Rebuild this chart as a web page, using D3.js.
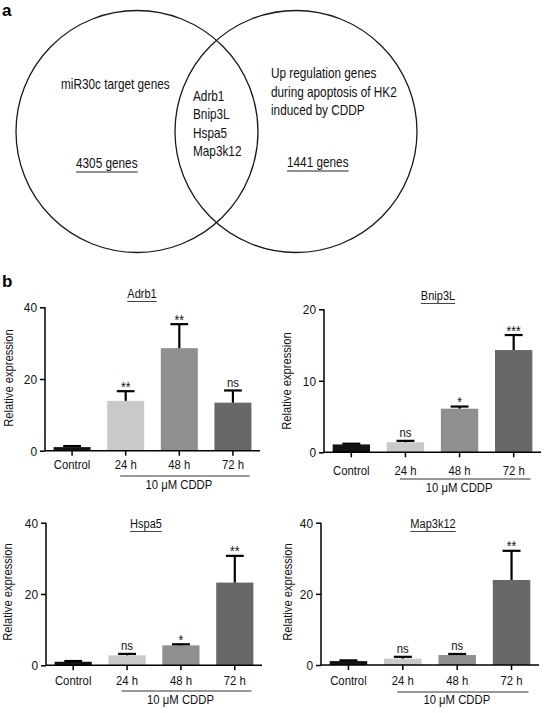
<!DOCTYPE html>
<html>
<head>
<meta charset="utf-8">
<script src="https://cdn.jsdelivr.net/npm/d3@7/dist/d3.min.js"></script>
<style>
  html, body { margin: 0; padding: 0; background: #fff; }
  svg { display: block; font-family: "Liberation Sans", Arial, sans-serif; }
</style>
</head>
<body>
<svg id="chart" width="544" height="713"></svg>
<script>
// ---------- DATA ----------
const categories = ["Control", "24 h", "48 h", "72 h"];
const genes = ["Adrb1", "Bnip3L", "Hspa5", "Map3k12"];

const adrb1Mean = [1.0, 13.9, 28.6, 13.4];
const adrb1Err  = [0.3, 2.7, 6.7, 3.4];
const adrb1Sig  = ["", "**", "**", "ns"];

const bnip3lMean = [1.1, 1.4, 6.1, 14.3];
const bnip3lErr  = [0.1, 0.2, 0.3, 2.1];
const bnip3lSig  = ["", "ns", "*", "***"];

const hspa5Mean = [1.0, 2.8, 5.6, 23.2];
const hspa5Err  = [0.2, 0.4, 0.3, 7.5];
const hspa5Sig  = ["", "ns", "*", "**"];

const map3k12Mean = [1.1, 1.8, 2.8, 23.9];
const map3k12Err  = [0.2, 0.5, 0.3, 8.2];
const map3k12Sig  = ["", "ns", "ns", "**"];

const ticks40 = [0, 20, 40];
const ticks20 = [0, 10, 20];

const yAxisTitle = "Relative expression";
const treatmentLabel = "10 μM CDDP";

const vennLeftLabel = ["miR30c target genes"];
const vennLeftCount = "4305 genes";
const vennShared = ["Adrb1", "Bnip3L", "Hspa5", "Map3k12"];
const vennRightLabel = ["Up regulation genes", "during apoptosis of HK2", "induced by CDDP"];
const vennRightCount = "1441 genes";

// ---------- STYLE / LAYOUT ----------
const barColors = ["#131313", "#c9c9c9", "#8f8f8f", "#686868"];
const svg = d3.select("#chart");
svg.append("rect").attr("width", 544).attr("height", 713).attr("fill", "#fff");

function condense(sel, f) {
  sel.each(function () {
    const w = this.getComputedTextLength();
    d3.select(this).attr("textLength", w * f).attr("lengthAdjust", "spacingAndGlyphs");
  });
  return sel;
}

// panel letters
svg.append("text").attr("x", 2).attr("y", 16).attr("font-size", 17).attr("font-weight", "bold").text("a");
svg.append("text").attr("x", 2).attr("y", 287).attr("font-size", 17).attr("font-weight", "bold").text("b");

// ---------- VENN ----------
const venn = svg.append("g");
const circles = [{cx: 137, cy: 131.5, r: 121}, {cx: 296, cy: 131.5, r: 121}];
venn.selectAll("circle").data(circles).join("circle")
  .attr("cx", d => d.cx).attr("cy", d => d.cy).attr("r", d => d.r)
  .attr("fill", "none").attr("stroke", "#1a1a1a").attr("stroke-width", 1.3);

const vennFont = 15, vennSquash = 0.785;
function vennLines(lines, x, y0, dy) {
  return venn.append("g").selectAll("text").data(lines).join("text")
    .attr("x", x).attr("y", (d, i) => y0 + i * dy)
    .attr("font-size", vennFont).attr("fill", "#111").text(d => d)
    .call(condense, vennSquash);
}
vennLines(vennLeftLabel, 61, 89, 18.5);
vennLines(vennShared, 193, 101, 18.3);
vennLines(vennRightLabel, 271, 78, 18.5);
function countLabel(txt, x, y) {
  const t = venn.append("text").attr("x", x).attr("y", y).attr("font-size", vennFont)
    .attr("fill", "#111").text(txt).call(condense, vennSquash);
  const w = +t.attr("textLength");
  venn.append("line").attr("x1", x).attr("x2", x + w).attr("y1", y + 4).attr("y2", y + 4)
    .attr("stroke", "#222").attr("stroke-width", 1);
}
countLabel(vennLeftCount, 76, 168);
countLabel(vennRightCount, 287, 167);

// ---------- BAR PANELS ----------
const panels = [
  {gene: genes[0], mean: adrb1Mean, err: adrb1Err, sig: adrb1Sig, ticks: ticks40,
   x0: 45, x1: 260, y0: 450.7, yTop: 307.3, titleX: 142, titleY: 298,
   yLabX: 12.5, yLabY: 378, xLabY: 469, lineY: 476, cddpY: 489},
  {gene: genes[1], mean: bnip3lMean, err: bnip3lErr, sig: bnip3lSig, ticks: ticks20,
   x0: 324, x1: 541, y0: 452.3, yTop: 309.3, titleX: 438, titleY: 300,
   yLabX: 291, yLabY: 381, xLabY: 475, lineY: 479, cddpY: 492},
  {gene: genes[2], mean: hspa5Mean, err: hspa5Err, sig: hspa5Sig, ticks: ticks40,
   x0: 46, x1: 262, y0: 665.3, yTop: 522.7, titleX: 146, titleY: 528,
   yLabX: 12, yLabY: 592, xLabY: 685, lineY: 691, cddpY: 704},
  {gene: genes[3], mean: map3k12Mean, err: map3k12Err, sig: map3k12Sig, ticks: ticks40,
   x0: 321, x1: 539, y0: 665, yTop: 522.7, titleX: 433, titleY: 528,
   yLabX: 292, yLabY: 592, xLabY: 685, lineY: 692, cddpY: 704}
];

panels.forEach(p => {
  const g = svg.append("g");
  const yMax = p.ticks[p.ticks.length - 1];
  const x = d3.scaleBand().domain(categories).range([p.x0, p.x1]).paddingInner(0.31).paddingOuter(0.16);
  const y = d3.scaleLinear().domain([0, yMax]).range([p.y0, p.yTop]);
  const rows = categories.map((c, i) => ({c, m: p.mean[i], e: p.err[i], s: p.sig[i], col: barColors[i]}));

  // bars
  g.selectAll("rect.bar").data(rows).join("rect").attr("class", "bar")
    .attr("x", d => x(d.c)).attr("width", x.bandwidth())
    .attr("y", d => y(d.m)).attr("height", d => y(0) - y(d.m))
    .attr("fill", d => d.col);

  // error bars (upper only)
  const capW = x.bandwidth() * 0.48;
  g.selectAll("line.stem").data(rows).join("line").attr("class", "stem")
    .attr("x1", d => x(d.c) + x.bandwidth() / 2).attr("x2", d => x(d.c) + x.bandwidth() / 2)
    .attr("y1", d => y(d.m)).attr("y2", d => y(d.m + d.e))
    .attr("stroke", "#000").attr("stroke-width", 2.2);
  g.selectAll("line.cap").data(rows).join("line").attr("class", "cap")
    .attr("x1", d => x(d.c) + x.bandwidth() / 2 - capW / 2).attr("x2", d => x(d.c) + x.bandwidth() / 2 + capW / 2)
    .attr("y1", d => y(d.m + d.e)).attr("y2", d => y(d.m + d.e))
    .attr("stroke", "#000").attr("stroke-width", 2.2);

  // significance
  g.selectAll("text.sig").data(rows.filter(d => d.s)).join("text").attr("class", "sig")
    .attr("x", d => x(d.c) + x.bandwidth() / 2)
    .attr("y", d => y(d.m + d.e) + (d.s.includes("*") ? 0.5 : -3.5))
    .attr("text-anchor", "middle").attr("font-size", d => d.s.includes("*") ? 14 : 13)
    .attr("fill", "#111").text(d => d.s).call(condense, 0.87);

  // y axis
  const yAxis = g.append("g").attr("transform", `translate(${p.x0},0)`)
    .call(d3.axisLeft(y).tickValues(p.ticks).tickSize(5).tickPadding(3).tickFormat(d3.format("d")));
  yAxis.select(".domain").attr("stroke", "#000").attr("stroke-width", 1.5).attr("d", `M0,${p.yTop}V${p.y0}`);
  yAxis.selectAll(".tick line").attr("stroke", "#000").attr("stroke-width", 1.5);
  yAxis.selectAll(".tick text").attr("font-size", 13.5).attr("fill", "#111")
    .attr("font-family", "Liberation Sans, Arial, sans-serif").call(condense, 0.88);

  // x axis
  const xAxis = g.append("g").attr("transform", `translate(0,${p.y0})`)
    .call(d3.axisBottom(x).tickSize(5).tickPadding(4));
  xAxis.select(".domain").attr("stroke", "#000").attr("stroke-width", 1.5).attr("d", `M${p.x0},0H${p.x1}`);
  xAxis.selectAll(".tick line").attr("stroke", "#000").attr("stroke-width", 1.5);
  xAxis.selectAll(".tick text").remove();
  g.selectAll("text.xl").data(categories).join("text").attr("class", "xl")
    .attr("x", d => x(d) + x.bandwidth() / 2).attr("y", p.xLabY)
    .attr("text-anchor", "middle").attr("font-size", 13).attr("fill", "#111").text(d => d)
    .call(condense, 0.87);

  // treatment bracket line + label
  const lx1 = x(categories[1]) + x.bandwidth() * 0.35;
  const lx2 = x(categories[3]) + x.bandwidth() * 0.95;
  g.append("line").attr("x1", lx1).attr("x2", lx2).attr("y1", p.lineY).attr("y2", p.lineY)
    .attr("stroke", "#333").attr("stroke-width", 1);
  g.append("text").attr("x", (lx1 + lx2) / 2 - 6).attr("y", p.cddpY).attr("text-anchor", "middle")
    .attr("font-size", 13).attr("fill", "#111").text(treatmentLabel).call(condense, 0.87);

  // y label
  g.append("text").attr("transform", `translate(${p.yLabX},${p.yLabY}) rotate(-90)`)
    .attr("text-anchor", "middle").attr("font-size", 13).attr("fill", "#111").text(yAxisTitle)
    .call(condense, 0.86);

  // title with underline
  const t = g.append("text").attr("x", p.titleX).attr("y", p.titleY).attr("text-anchor", "middle")
    .attr("font-size", 12.5).attr("fill", "#111").text(p.gene).call(condense, 0.88);
  const tw = +t.attr("textLength");
  g.append("line").attr("x1", p.titleX - tw / 2).attr("x2", p.titleX + tw / 2)
    .attr("y1", p.titleY + 3.5).attr("y2", p.titleY + 3.5).attr("stroke", "#444").attr("stroke-width", 1);
});
</script>
</body>
</html>
